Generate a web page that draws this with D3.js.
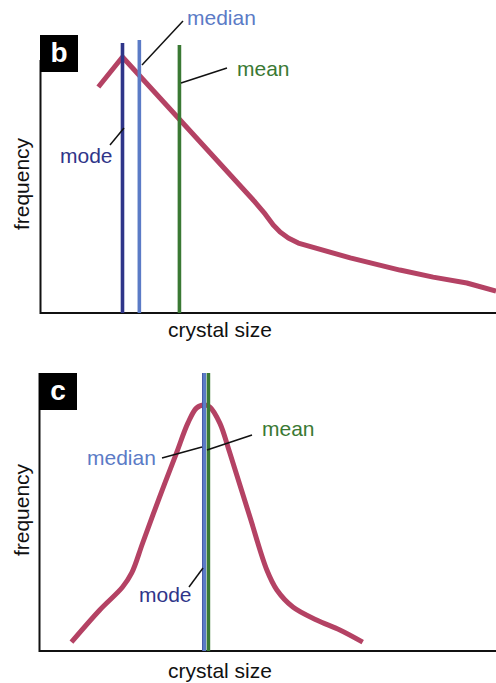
<!DOCTYPE html>
<html>
<head>
<meta charset="utf-8">
<script src="https://cdn.jsdelivr.net/npm/d3@7"></script>
<style>
  html, body { margin: 0; padding: 0; background: #fff; }
  svg { display: block; }
  text { font-family: "Liberation Sans", Arial, Helvetica, sans-serif; }
</style>
</head>
<body>
<svg id="chart" width="496" height="683"></svg>
<script>
// ---- Data (arbitrary units: crystal size 0-100, frequency 0-100) ----
const panelLabels = ["b", "c"];
const axisLabelX = "crystal size";
const axisLabelY = "frequency";
const statNames = ["mode", "median", "mean"];

// Panel b: skewed distribution
const sizeB = [12.7, 18.0, 47.1, 49.3, 51.1, 52.6, 54.4, 56.6, 68.0, 78.9, 86.2, 93.6, 100];
const freqB = [83.7, 94.8, 41.1, 36.7, 32.6, 30.0, 27.8, 25.9, 20.4, 15.9, 13.3, 11.1, 8.1];
const statsB = [18.0, 21.7, 30.5];      // mode, median, mean
const statTopB = [100, 101.1, 99.3];

// Panel c: symmetric distribution
const sizeC = [7.0, 13.2, 18.2, 20.2, 22.6, 26.3, 30.0, 32.5, 34.4, 36.0, 37.3, 39.5, 41.7, 46.1, 49.8, 52.0, 55.5, 60.7, 65.8, 70.8];
const freqC = [3.3, 15.2, 23.7, 28.9, 40.0, 57.0, 73.3, 84.4, 90.0, 91.1, 90.4, 84.4, 73.3, 49.6, 30.0, 22.6, 16.3, 11.5, 7.8, 3.3];
const statsC = [36.0, 36.1, 37.0];      // mode, median, mean
const statTopC = [103, 103, 103];

// ---- Styles ----
const statColors = { mode: "#2f3589", median: "#5b7bc6", mean: "#3a7934" };
const curveColor = "#b44264";

const svg = d3.select("#chart");

function drawPanel(cfg) {
  const x = d3.scaleLinear().domain([0, 100]).range([cfg.left, cfg.right]);
  const y = d3.scaleLinear().domain([0, 100]).range([cfg.bottom, cfg.bottom - 270]);
  const g = svg.append("g");

  // axes (L-shaped frame)
  g.append("path")
    .attr("d", `M${cfg.left},${cfg.axisTop} V${cfg.bottom} H${cfg.right}`)
    .attr("fill", "none").attr("stroke", "#111").attr("stroke-width", 2);

  // curve
  const pts = cfg.sizes.map((s, i) => [s, cfg.freqs[i]]);
  g.append("path")
    .datum(pts)
    .attr("d", d3.line().x(d => x(d[0])).y(d => y(d[1])).curve(cfg.curve))
    .attr("fill", "none").attr("stroke", curveColor)
    .attr("stroke-width", 5).attr("stroke-linejoin", "round");

  // statistic lines
  cfg.order.forEach(i => {
    const name = statNames[i];
    g.append("line")
      .attr("x1", x(cfg.stats[i])).attr("x2", x(cfg.stats[i]))
      .attr("y1", y(cfg.tops[i])).attr("y2", y(0))
      .attr("stroke", statColors[name]).attr("stroke-width", 3.6);
  });

  // annotations
  cfg.notes.forEach(n => {
    g.append("line")
      .attr("x1", n.l[0]).attr("y1", n.l[1]).attr("x2", n.l[2]).attr("y2", n.l[3])
      .attr("stroke", "#111").attr("stroke-width", 1.5);
    g.append("text")
      .attr("x", n.t[0]).attr("y", n.t[1])
      .attr("font-size", 21).attr("fill", statColors[n.name])
      .text(n.name);
  });

  // axis titles
  g.append("text")
    .attr("x", 220).attr("y", cfg.bottom + cfg.xLabelOffset)
    .attr("text-anchor", "middle").attr("font-size", 21).attr("fill", "#111")
    .text(axisLabelX);
  g.append("text")
    .attr("transform", `translate(29,${cfg.yLabelMid}) rotate(-90)`)
    .attr("text-anchor", "middle").attr("font-size", 21).attr("fill", "#111")
    .text(axisLabelY);

  // panel label box
  g.append("rect")
    .attr("x", cfg.left - 0.5).attr("y", cfg.boxTop).attr("width", 38).attr("height", 37)
    .attr("fill", "#000");
  g.append("text")
    .attr("x", cfg.left + 18.5).attr("y", cfg.boxTop + 27)
    .attr("text-anchor", "middle").attr("font-size", 28).attr("font-weight", "bold")
    .attr("fill", "#fff")
    .text(cfg.label);
}

drawPanel({
  label: panelLabels[0], left: 40.5, right: 496, bottom: 313, axisTop: 60, boxTop: 35,
  sizes: sizeB, freqs: freqB, stats: statsB, tops: statTopB, order: [0, 1, 2],
  curve: d3.curveLinear, yLabelMid: 184, xLabelOffset: 24,
  notes: [
    { name: "median", t: [187, 25], l: [183, 21, 142, 65] },
    { name: "mean",   t: [237, 76], l: [227, 68, 181, 83] },
    { name: "mode",   t: [60, 163], l: [110, 145, 124, 128] }
  ]
});

drawPanel({
  label: panelLabels[1], left: 39.5, right: 496, bottom: 651, axisTop: 373, boxTop: 373,
  sizes: sizeC, freqs: freqC, stats: statsC, tops: statTopC, order: [0, 2, 1],
  curve: d3.curveCatmullRom.alpha(0.5), yLabelMid: 510, xLabelOffset: 27,
  notes: [
    { name: "mean",   t: [262, 436], l: [252, 435, 207, 450] },
    { name: "median", t: [87, 465],  l: [162, 458, 202, 447] },
    { name: "mode",   t: [139, 602], l: [189, 587, 203, 568] }
  ]
});
</script>
</body>
</html>
